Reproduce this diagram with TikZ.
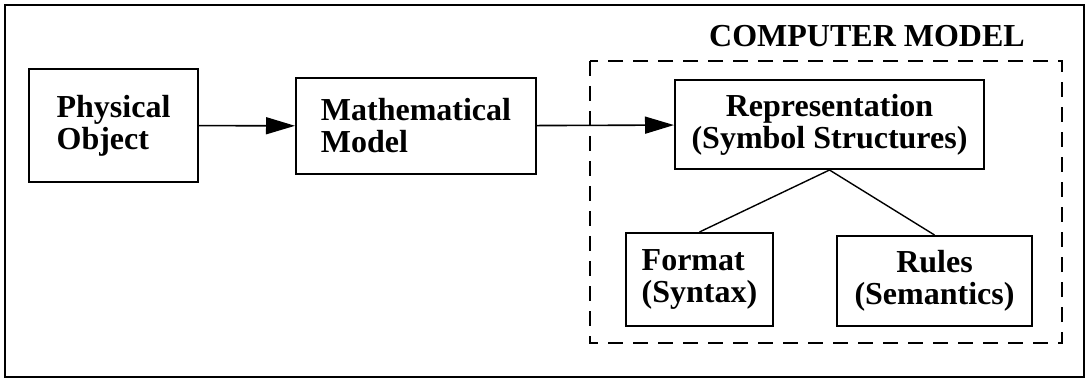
\documentclass[tikz,border=0pt]{standalone}
\usepackage{fontspec}
\setmainfont{Liberation Serif}
\usetikzlibrary{arrows.meta,positioning}
\definecolor{ink}{HTML}{000000}
\tikzset{
  box/.style={draw=ink,line width=1pt,inner sep=0pt,align=left},
  flow/.style={draw=ink,line width=0.8pt,-{Triangle[length=14.5pt,width=8.5pt]}},
  link/.style={draw=ink,line width=0.7pt},
}

\begin{document}
\begin{tikzpicture}[x=0.5pt,y=-0.5pt,font=\fontsize{16}{16}\selectfont\bfseries]
    \useasboundingbox (0,0) rectangle (1086,379);
    \draw[ink,line width=1pt] (5,5) rectangle (1084,377);
    % computer model frame
    \draw[ink,line width=0.8pt,dash pattern=on 7.5pt off 5pt] (590,61) rectangle (1062,343);
    \node[text=ink] (cmtitle) at (867,36) {COMPUTER MODEL};
    \node[box,minimum width=84.5pt,minimum height=56.5pt] (phys) at (113.5,125.5) {Physical\\Object};
    \node[box,minimum width=120pt,minimum height=48pt] (math) at (416,126) {Mathematical\\Model};
    \node[box,align=center,minimum width=154.5pt,minimum height=44.5pt] (rep) at (829.5,124.5) {Representation\\(Symbol Structures)};
    \node[box,minimum width=73.5pt,minimum height=46.5pt] (fmt) at (699.5,279.5) {Format\\(Syntax)};
    \node[box,align=center,minimum width=97.5pt,minimum height=45pt] (rules) at (934.5,281) {Rules\\(Semantics)};
    \draw[flow] (phys) -- (math);
    \draw[flow] (math) -- (rep);
    \draw[link] (rep.south) -- (fmt.north);
    \draw[link] (rep.south) -- (rules.north);
  \end{tikzpicture}
\end{document}
